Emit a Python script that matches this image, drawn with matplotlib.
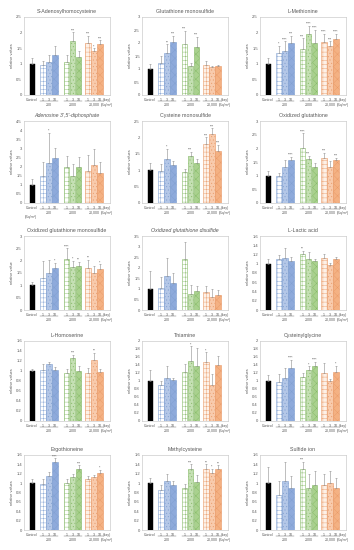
import matplotlib.pyplot as plt

plt.rcParams['font.family'] = ['Liberation Sans', 'DejaVu Sans']
plt.rcParams['hatch.linewidth'] = 0.3

# x categories: control, then days 1/3/10 at three dose rates
days = ['1', '3', '10']
doses = ['200', '2000', '20,000']

# values (control, 200 d1/d3/d10, 2000 d1/d3/d10, 20000 d1/d3/d10)
sah_vals = [1.0, 0.95, 1.05, 1.28, 1.07, 1.73, 1.22, 1.68, 1.40, 1.63]
sah_err = [0.18, 0.15, 0.22, 0.30, 0.22, 0.28, 0.20, 0.22, 0.10, 0.12]
sah_sig = ['', '', '', '', '', '***', '', '***', '*', '***']

gsm_vals = [1.0, 1.22, 1.60, 2.02, 1.98, 1.12, 1.85, 1.15, 1.08, 1.10]
gsm_err = [0.18, 0.28, 0.35, 0.25, 0.50, 0.10, 0.38, 0.15, 0.05, 0.05]
gsm_sig = ['', '', '**', '***', '***', '', '***', '', '', '']

met_vals = [1.0, 1.35, 1.42, 1.68, 1.47, 1.97, 1.68, 1.71, 1.57, 1.80]
met_err = [0.20, 0.22, 0.30, 0.22, 0.35, 0.25, 0.40, 0.25, 0.15, 0.17]
met_sig = ['', '*', '****', '***', '***', '****', '****', '****', '***', '****']

pap_vals = [1.0, 1.50, 2.20, 2.45, 2.00, 1.48, 1.98, 1.75, 2.10, 1.65]
pap_err = [0.30, 0.75, 1.65, 0.55, 0.60, 0.65, 0.55, 0.90, 0.85, 0.60]
pap_sig = ['', '', '*', '', '', '', '', '', '', '']

cym_vals = [1.0, 0.97, 1.33, 1.17, 0.96, 1.43, 1.22, 1.80, 2.10, 1.58]
cym_err = [0.22, 0.22, 0.32, 0.12, 0.08, 0.12, 0.12, 0.20, 0.18, 0.20]
cym_sig = ['', '', '*', '', '', '***', '', '***', '***', '***']

gssg_vals = [1.0, 1.00, 1.33, 1.58, 2.00, 1.60, 1.30, 1.65, 1.30, 1.57]
gssg_err = [0.18, 0.10, 0.25, 0.10, 0.55, 0.12, 0.15, 0.18, 0.25, 0.08]
gssg_sig = ['', '', '', '****', '****', '***', '', '***', '', '***']

gssgm_vals = [1.0, 1.28, 1.52, 1.70, 2.05, 1.75, 1.80, 1.72, 1.48, 1.65]
gssgm_err = [0.15, 0.72, 0.50, 0.20, 0.45, 0.25, 0.15, 0.30, 0.30, 0.20]
gssgm_sig = ['', '', '', '*', '****', '*', '**', '**', '', '*']

gssgd_vals = [1.0, 1.02, 1.60, 1.28, 2.40, 0.75, 0.92, 0.85, 0.62, 0.70]
gssgd_err = [0.85, 0.55, 0.85, 0.45, 0.80, 0.42, 0.22, 0.28, 0.35, 0.25]
gssgd_sig = ['', '', '', '', '', '', '', '', '', '']

lac_vals = [1.0, 1.10, 1.13, 1.07, 1.22, 1.10, 1.07, 1.13, 0.97, 1.11]
lac_err = [0.10, 0.08, 0.20, 0.08, 0.06, 0.15, 0.04, 0.08, 0.05, 0.04]
lac_sig = ['', '', '', '', '**', '', '', '', '', '']

hse_vals = [1.0, 1.03, 1.14, 1.03, 0.97, 1.27, 1.01, 0.96, 1.22, 0.99]
hse_err = [0.05, 0.12, 0.05, 0.05, 0.08, 0.05, 0.10, 0.10, 0.15, 0.05]
hse_sig = ['', '', '', '', '', '***', '', '', '**', '']

thi_vals = [1.0, 0.90, 1.08, 1.02, 1.22, 1.50, 1.38, 1.47, 0.90, 1.40]
thi_err = [0.28, 0.10, 0.30, 0.05, 0.20, 0.37, 0.45, 0.25, 0.28, 0.22]
thi_sig = ['', '', '', '', '', '*', '', '*', '', '']

cg_vals = [1.0, 0.97, 1.07, 1.33, 1.10, 1.27, 1.38, 1.20, 0.99, 1.23]
cg_err = [0.15, 0.20, 0.25, 0.20, 0.10, 0.10, 0.10, 0.25, 0.05, 0.15]
cg_sig = ['', '', '', '****', '', '*', '****', '', '', '*']

erg_vals = [1.0, 0.98, 1.15, 1.45, 1.00, 1.13, 1.30, 1.08, 1.13, 1.22]
erg_err = [0.08, 0.10, 0.08, 0.08, 0.08, 0.06, 0.08, 0.08, 0.05, 0.06]
erg_sig = ['', '', '', '****', '', '', '***', '', '', '*']

mcy_vals = [1.0, 0.85, 1.05, 0.95, 0.90, 1.30, 1.02, 1.30, 1.22, 1.30]
mcy_err = [0.10, 0.12, 0.15, 0.10, 0.08, 0.10, 0.15, 0.10, 0.08, 0.08]
mcy_sig = ['', '', '', '', '', '***', '', '**', '*', '**']

sul_vals = [1.0, 0.75, 1.05, 0.90, 1.30, 0.90, 0.95, 0.95, 1.00, 0.90]
sul_err = [0.35, 0.30, 0.40, 0.25, 0.15, 0.30, 0.30, 0.25, 0.25, 0.20]
sul_sig = ['', '', '', '', '***', '', '', '', '', '']

panels = [
    ('S-Adenosylhomocysteine', sah_vals, sah_err, sah_sig, 2.5, 0.5, False),
    ('Glutathione monosulfide', gsm_vals, gsm_err, gsm_sig, 3.0, 0.5, False),
    ('L-Methionine', met_vals, met_err, met_sig, 2.5, 0.5, False),
    ("Adenosine 3',5'-diphosphate", pap_vals, pap_err, pap_sig, 4.5, 0.5, True),
    ('Cysteine monosulfide', cym_vals, cym_err, cym_sig, 2.5, 0.5, False),
    ('Oxidized glutathione', gssg_vals, gssg_err, gssg_sig, 3.0, 0.5, False),
    ('Oxidized glutathione monosulfide', gssgm_vals, gssgm_err, gssgm_sig, 3.0, 0.5, False),
    ('Oxidized glutathione disulfide', gssgd_vals, gssgd_err, gssgd_sig, 3.5, 0.5, True),
    ('L-Lactic acid', lac_vals, lac_err, lac_sig, 1.6, 0.2, False),
    ('L-Homoserine', hse_vals, hse_err, hse_sig, 1.6, 0.2, False),
    ('Thiamine', thi_vals, thi_err, thi_sig, 2.0, 0.2, False),
    ('Cysteinylglycine', cg_vals, cg_err, cg_sig, 2.0, 0.2, False),
    ('Ergothioneine', erg_vals, erg_err, erg_sig, 1.6, 0.2, False),
    ('Methylcysteine', mcy_vals, mcy_err, mcy_sig, 1.6, 0.2, False),
    ('Sulfide ion', sul_vals, sul_err, sul_sig, 1.6, 0.2, False),
]

# bar styling per group (white/light/mid)
faces = [['#ffffff', '#b4c7e7', '#8eaadb'],
         ['#ffffff', '#c5e0b4', '#a9d18e'],
         ['#fdf1e8', '#f8cbad', '#f4b183']]
edges = ['#7f9fd0', '#84b865', '#e99a68']
hatches = ['++++', '.....', 'xxxx']

xpos = [8, 19, 25, 31, 42.5, 48.5, 54.5, 64, 70, 76]
txt = '#595959'

W, H = 354, 550
fig = plt.figure(figsize=(3.54, 5.5), dpi=100)
col_left = [24, 142, 260]
rows = [(17, 95), (121, 203), (236, 310), (341, 421), (455, 530)]

for i, (title, vals, err, sig, ymax, step, ital) in enumerate(panels):
    r, c = divmod(i, 3)
    top, bot = rows[r]
    ax = fig.add_axes([col_left[c] / W, 1 - bot / H, 86 / W, (bot - top) / H])

    ax.bar(xpos[0], vals[0], width=5, color='black', edgecolor='black', linewidth=0.3)
    for g in range(3):
        for k in range(3):
            j = 1 + g * 3 + k
            ax.bar(xpos[j], vals[j], width=5.2, color=faces[g][k], edgecolor=edges[g],
                   hatch=hatches[k], linewidth=0.4)
    ax.errorbar(xpos, vals, yerr=[[0] * len(err), err], fmt='none', ecolor='#8c8c8c',
                elinewidth=0.4, capsize=1, capthick=0.4)
    for x, v, e, s in zip(xpos, vals, err, sig):
        if s:
            ax.text(x, v + e, s, ha='center', va='bottom', fontsize=2.5, color=txt)

    ax.set_xlim(0, 86)
    ax.set_ylim(0, ymax)
    n = int(round(ymax / step))
    ticks = [round(step * t, 2) for t in range(n + 1)]
    ax.set_yticks(ticks)
    ax.set_yticklabels(['%g' % t for t in ticks])
    ax.tick_params(axis='y', labelsize=3, length=0, pad=1.5, labelcolor=txt)
    ax.set_xticks([])
    for sp in ax.spines.values():
        sp.set_color('#bfbfbf')
        sp.set_linewidth(0.4)
    ax.set_ylabel('relative value' if i == 6 else 'relative values', fontsize=2.8,
                  color=txt, labelpad=2)
    ax.set_title(title, fontsize=3.8, color=txt, pad=3,
                 style='italic' if ital else 'normal')

    # category labels under the axis
    lab = dict(xycoords=('data', 'axes fraction'), textcoords='offset points',
               ha='center', va='top', fontsize=2.6, color=txt, annotation_clip=False)
    ax.annotate('Control', xy=(xpos[0], 0), xytext=(0, -2), **lab)
    for g in range(3):
        for k in range(3):
            ax.annotate(days[k], xy=(xpos[1 + g * 3 + k], 0), xytext=(0, -2), **lab)
        ax.annotate(doses[g], xy=(xpos[2 + g * 3], 0), xytext=(0, -5.5), **lab)
        ax.plot([xpos[1 + g * 3] - 3, xpos[3 + g * 3] + 3], [-0.075, -0.075],
                transform=ax.get_xaxis_transform(), color=txt, lw=0.3, clip_on=False)
    ax.annotate('(day)', xy=(83, 0), xytext=(0, -2), **lab)
    ax.annotate('(Bq/m³)', xy=(83, 0), xytext=(0, -5.5), **lab)

fig.text(25 / W, 1 - 217 / H, '(Bq/m³)', fontsize=2.6, color=txt, ha='left', va='center')

fig.savefig('out.png', dpi=100)
